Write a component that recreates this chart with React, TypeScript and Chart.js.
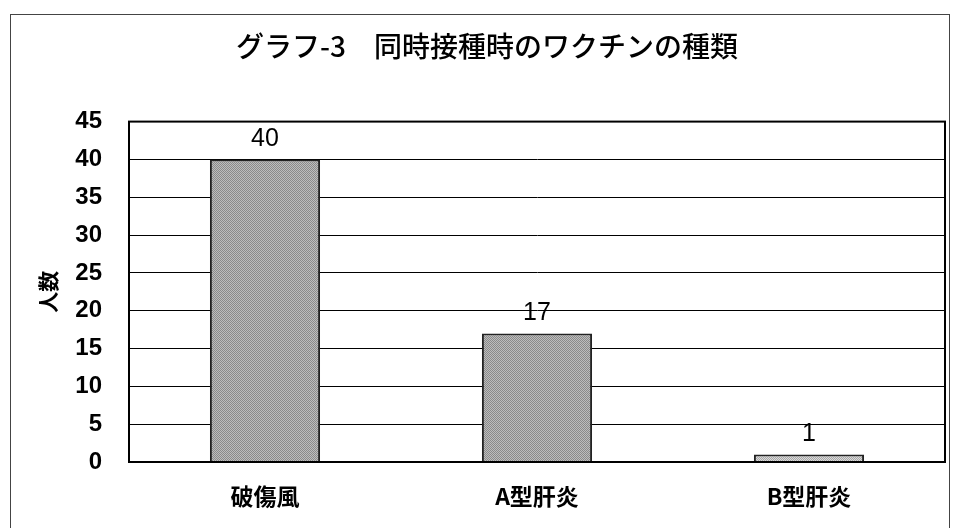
import React, { useEffect, useRef } from "react";
import { Chart, registerables } from "chart.js";

Chart.register(...registerables);

const chartTitle = "グラフ-3　同時接種時のワクチンの種類";
const yAxisTitle = "人数";
const categories = ["破傷風", "A型肝炎", "B型肝炎"];
const counts = [40, 17, 1];
const yMin = 0;
const yMax = 45;
const yStep = 5;

const CJK = "'Noto Sans CJK JP', 'Noto Sans', sans-serif";
const LAT = "'Liberation Sans', Arial, sans-serif";

function makePattern(dark: string, light: string) {
  const c = document.createElement("canvas");
  c.width = 2;
  c.height = 2;
  const g = c.getContext("2d")!;
  g.fillStyle = light;
  g.fillRect(0, 0, 2, 2);
  g.fillStyle = dark;
  g.fillRect(0, 0, 1, 1);
  g.fillRect(1, 1, 1, 1);
  return g.createPattern(c, "repeat");
}

const framePlugin = {
  id: "frames",
  beforeDraw(chart: any) {
    const { ctx, width, height } = chart;
    ctx.save();
    ctx.fillStyle = "#ffffff";
    ctx.fillRect(0, 0, width, height);
    ctx.strokeStyle = "#444";
    ctx.lineWidth = 1;
    ctx.strokeRect(10.5, 14.5, 939, height + 10);
    ctx.restore();
  },
  afterDatasetsDraw(chart: any) {
    const { ctx, chartArea } = chart;
    ctx.save();
    ctx.strokeStyle = "#000";
    ctx.lineWidth = 2;
    ctx.strokeRect(chartArea.left, chartArea.top, chartArea.right - chartArea.left, chartArea.bottom - chartArea.top);
    ctx.restore();
  },
};

const valueLabelPlugin = {
  id: "valueLabels",
  afterDatasetsDraw(chart: any) {
    const { ctx } = chart;
    const meta = chart.getDatasetMeta(0);
    const data = chart.data.datasets[0].data;
    ctx.save();
    ctx.font = `25px ${LAT}`;
    ctx.fillStyle = "#000";
    ctx.textAlign = "center";
    ctx.textBaseline = "alphabetic";
    meta.data.forEach((bar: any, i: number) => {
      ctx.fillText(String(data[i]), bar.x, bar.y - 13);
    });
    ctx.restore();
  },
};

export default function App() {
  const ref = useRef<HTMLCanvasElement | null>(null);
  useEffect(() => {
    if (!ref.current) return;
    const darkPat = makePattern("#8a8a8a", "#bdbdbd");
    const lightPat = makePattern("#a8a8a8", "#dadada");
    const chart = new Chart(ref.current, {
      type: "bar",
      data: {
        labels: categories,
        datasets: [
          {
            data: counts,
            backgroundColor: [darkPat, darkPat, lightPat] as any,
            borderColor: "#222",
            borderWidth: 2,
            borderSkipped: "bottom",
            barPercentage: 0.405,
            categoryPercentage: 1,
          },
        ],
      },
      options: {
        animation: false,
        responsive: false,
        maintainAspectRatio: false,
        layout: { padding: { left: 29, right: 8, top: 0, bottom: 0 } },
        plugins: {
          legend: { display: false },
          tooltip: { enabled: false },
          title: {
            display: true,
            text: chartTitle,
            color: "#000",
            font: { family: CJK, size: 28, weight: 500 },
            padding: { top: 30, bottom: 58 },
          },
        },
        scales: {
          x: {
            grid: { display: false, drawTicks: false },
            border: { display: true, color: "#000", width: 2 },
            ticks: {
              color: "#000",
              font: { family: CJK, size: 23, weight: "bold" },
              padding: 20,
            },
            afterFit(scale: any) {
              scale.height = 66;
            },
          },
          y: {
            min: yMin,
            max: yMax,
            grid: { color: "#000", lineWidth: 1, drawTicks: false },
            border: { display: true, color: "#000", width: 2 },
            ticks: {
              stepSize: yStep,
              color: "#000",
              font: { family: LAT, size: 24, weight: "bold" },
              padding: 27,
            },
            title: {
              display: true,
              text: yAxisTitle,
              color: "#000",
              font: { family: CJK, size: 21, weight: "bold" },
              padding: { top: 6, bottom: 0 },
            },
            afterFit(scale: any) {
              scale.width = 100;
            },
          },
        },
      },
      plugins: [framePlugin, valueLabelPlugin],
    });
    return () => chart.destroy();
  }, []);
  return (
    <div style={{ position: "absolute", left: 0, top: 0, width: 953, height: 528 }}>
      <canvas ref={ref} width={953} height={528} style={{ width: 953, height: 528 }} />
    </div>
  );
}
